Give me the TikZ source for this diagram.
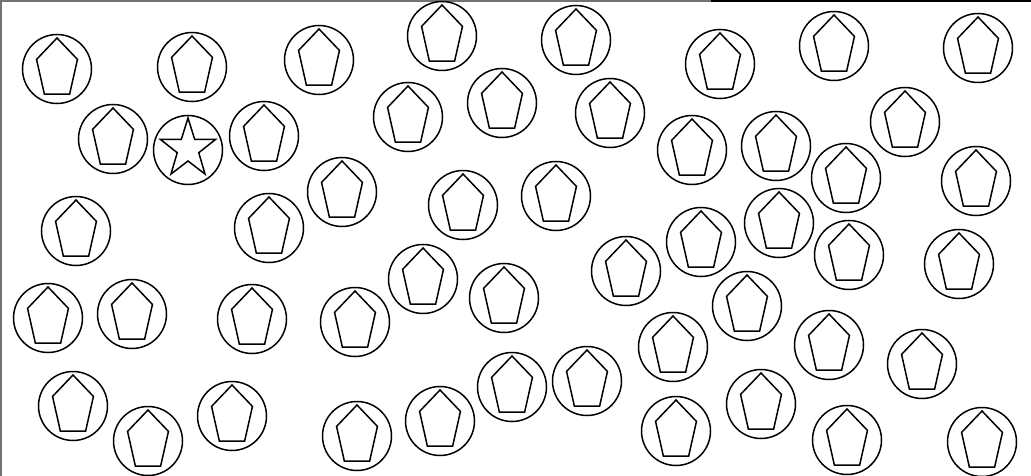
\documentclass[tikz,border=0pt]{standalone}
\usepackage{tikz}
\usetikzlibrary{calc}
\tikzset{
  coin/.style={line width=1.5pt, black},
  mark shape/.style={line width=1.5pt, black, line join=miter},
  frame line/.style={line width=1.4pt, black!55}
}
\begin{document}
\begin{tikzpicture}[x=1pt, y=-1pt]
\useasboundingbox (0,0) rectangle (1031,476);
% Frame edges
\draw[frame line] (1,0) -- (1,476);
\draw[frame line] (0,1) -- (711,1);
\draw[line width=2pt, black] (711,1.2) -- (1031,1.2);
% Coins with pentagons
\foreach \cx/\cy in {57/69, 192/67, 319/60, 442/36, 576/40, 720/64, 834/46, 978/48,
    113/139, 264/136, 408/117, 502/103, 610/113, 692/150, 776/146, 905/122,
    846/178, 976/181, 342/192, 463/205, 556/196, 76/231, 269/228,
    779/223, 701/242, 849/255, 626/271, 959/264, 423/279,
    48/318, 132/314, 252/319, 355/322, 504/298, 747/306,
    673/347, 829/345, 922/364,
    73/406, 148/441, 232/416, 357/436, 440/421, 512/387, 587/381,
    676/431, 761/404, 847/440, 982/442}{
  \draw[coin] (\cx,\cy) circle (34.5);
  \draw[mark shape] ($(\cx,\cy)+(270:21.5 and 31)$)
    -- ($(\cx,\cy)+(342:21.5 and 31)$)
    -- ($(\cx,\cy)+(54:21.5 and 31)$)
    -- ($(\cx,\cy)+(126:21.5 and 31)$)
    -- ($(\cx,\cy)+(198:21.5 and 31)$) -- cycle;
}
% Coin with the star
\draw[coin] (188,150) circle (34.5);
\draw[mark shape] ($(188,149)+(270:29 and 31)$)
  \foreach \k in {1,...,9}{
    \ifodd\k -- ($(188,149)+(270+36*\k:11.3 and 12)$)
    \else -- ($(188,149)+(270+36*\k:29 and 31)$)\fi
  } -- cycle;
\end{tikzpicture}
\end{document}
